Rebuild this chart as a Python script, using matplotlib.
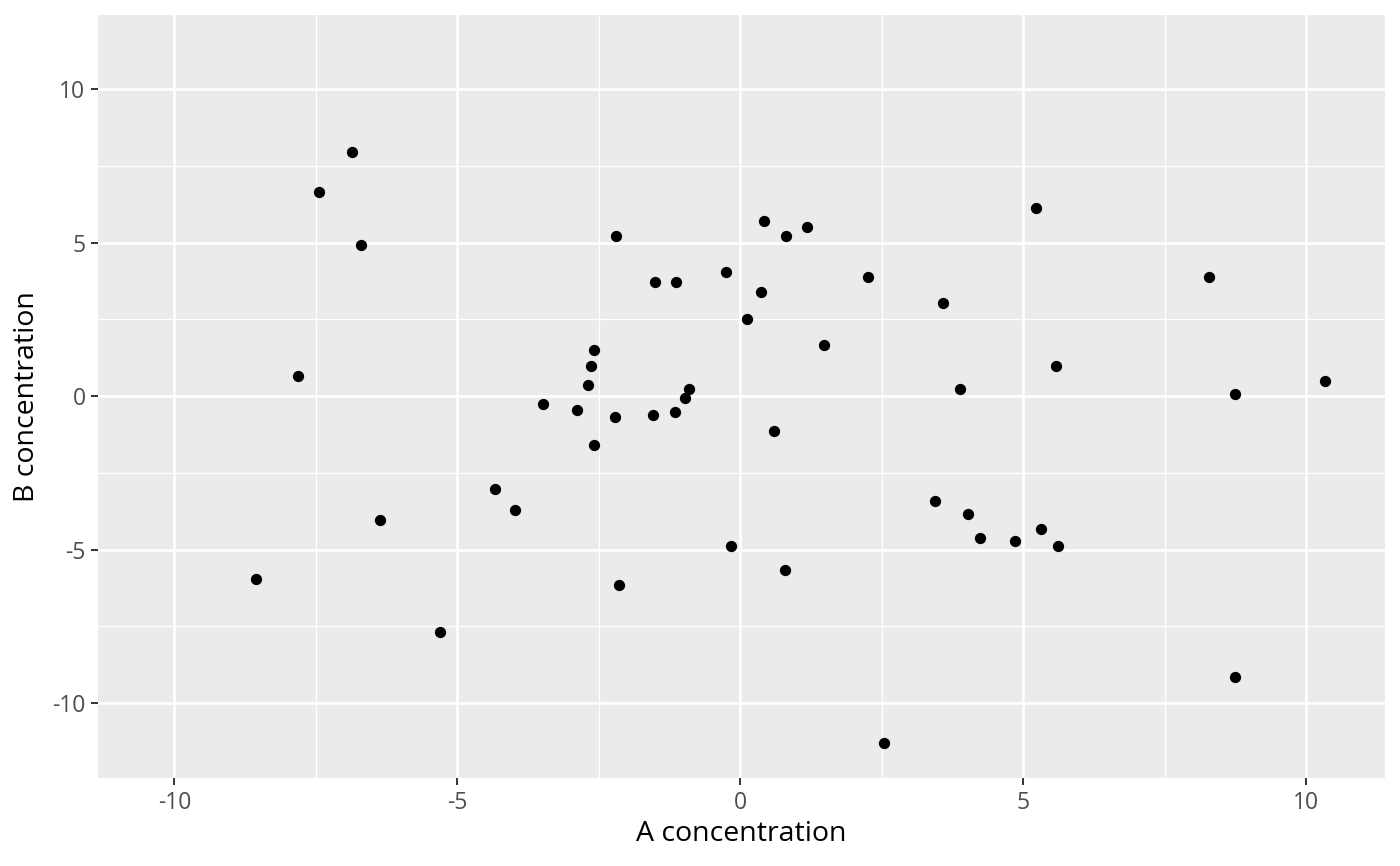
import matplotlib
matplotlib.use("Agg")
import matplotlib.pyplot as plt

plt.rcParams['font.family'] = ['Open Sans', 'DejaVu Sans']
plt.rcParams['axes.unicode_minus'] = False

# values
a_conc = [-6.86, -7.44, -6.70, -7.82, -8.56, -6.37, -5.31, -4.33, -3.98, -3.48,
          -2.88, -2.69, -2.63, -2.58, -2.58, -2.19, -2.21, -2.14, -1.50, -1.54,
          -1.13, -1.15, -0.97, -0.90, -0.25, -0.16, 0.12, 0.37, 0.42, 0.60,
          0.81, 0.80, 1.18, 1.49, 2.26, 2.55, 3.45, 3.59, 3.89, 4.03,
          4.24, 4.86, 5.23, 5.32, 5.59, 5.62, 8.28, 8.74, 8.74, 10.34]
b_conc = [7.95, 6.64, 4.92, 0.65, -5.96, -4.04, -7.69, -3.03, -3.71, -0.26,
          -0.46, 0.36, 0.98, 1.50, -1.60, 5.21, -0.68, -6.16, 3.71, -0.62,
          3.71, -0.52, -0.07, 0.23, 4.04, -4.89, 2.51, 3.39, 5.70, -1.14,
          5.21, -5.67, 5.50, 1.66, 3.88, -11.30, -3.42, 3.03, 0.23, -3.84,
          -4.63, -4.72, 6.12, -4.33, 0.98, -4.89, 3.88, 0.07, -9.15, 0.49]

major = [-10, -5, 0, 5, 10]
minor = [-7.5, -2.5, 2.5, 7.5]

fig = plt.figure(figsize=(14, 8.66), dpi=100)
ax = fig.add_axes([0.07, 0.1016, 0.919, 0.8811])
ax.set_facecolor('#EBEBEB')
for s in ax.spines.values():
    s.set_visible(False)

ax.set_xlim(-11.35, 11.39)
ax.set_ylim(-12.44, 12.41)
ax.set_xticks(major)
ax.set_yticks(major)
ax.set_xticks(minor, minor=True)
ax.set_yticks(minor, minor=True)
ax.grid(which='major', color='white', linewidth=1.9)
ax.grid(which='minor', color='white', linewidth=0.9)
ax.set_axisbelow(True)
ax.tick_params(which='major', length=5, width=1.4, color='#333333',
               labelcolor='#4D4D4D', labelsize=16.5, pad=4)
ax.tick_params(which='minor', length=0)

ax.scatter(a_conc, b_conc, s=66, color='black', linewidths=0, zorder=3)

ax.set_xlabel('A concentration', fontsize=20.5, color='black', labelpad=4)
ax.set_ylabel('B concentration', fontsize=20.5, color='black', labelpad=8)

fig.savefig('out.png', dpi=100)
